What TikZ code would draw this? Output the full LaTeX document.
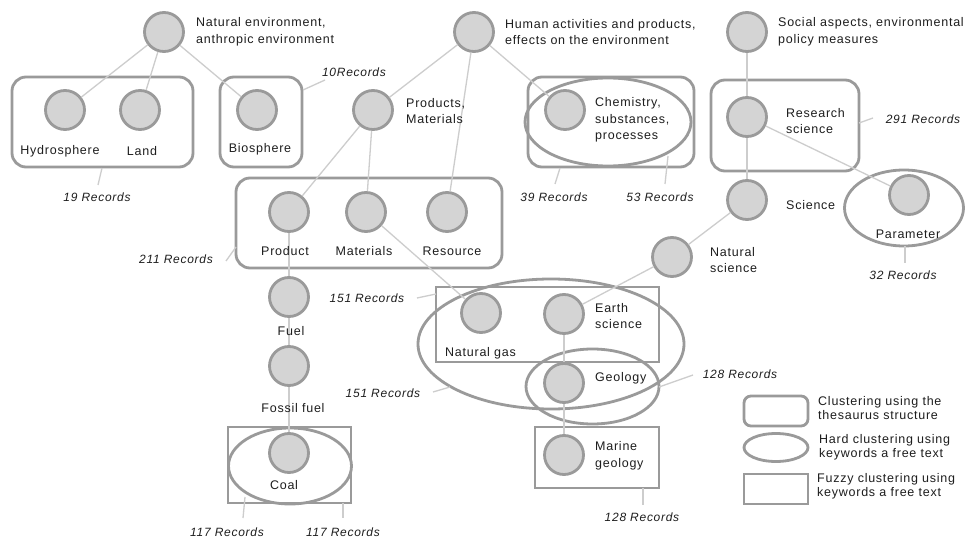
\documentclass[tikz,border=0pt]{standalone}
\usepackage{fontspec}
\setmainfont{Liberation Sans}[LetterSpace=6]
\usetikzlibrary{shapes.geometric}
\definecolor{sk}{HTML}{9A9A9A}
\definecolor{fl}{HTML}{D4D4D4}
\definecolor{ln}{HTML}{CDCDCD}
\definecolor{tx}{HTML}{1E1E1E}
\begin{document}
\begin{tikzpicture}[x=1pt,y=-1pt,
  circ/.style={circle,draw=sk,fill=fl,line width=2.8pt,minimum size=39pt,inner sep=0pt},
  lbl/.style={font=\fontsize{12.5}{16.5}\selectfont,text=tx,inner sep=0pt,align=left},
  leg/.style={font=\fontsize{12.5}{14}\selectfont,text=tx,inner sep=0pt,align=left},
  rec/.style={font=\fontsize{12}{14}\selectfont\itshape,text=tx,inner sep=0pt},
  edge/.style={draw=ln,line width=1.3pt},
  tbox/.style={rectangle,draw=sk,line width=2.8pt,rounded corners=14pt,inner sep=0pt},
  hbox/.style={ellipse,draw=sk,line width=2.8pt,inner sep=0pt},
  fbox/.style={rectangle,draw=sk,line width=2.8pt,inner sep=0pt}]
\path[use as bounding box,fill=white] (0,0) rectangle (966,540);

% cluster shapes
\node[tbox,minimum width=181pt,minimum height=90pt] (b19) at (102.5,122) {};
\node[tbox,minimum width=82pt,minimum height=90pt] (b10) at (261,122) {};
\node[tbox,minimum width=166pt,minimum height=90pt] (b39) at (611,122) {};
\node[hbox,minimum width=166pt,minimum height=88pt] (e53) at (608,122) {};
\node[tbox,minimum width=148pt,minimum height=91pt] (b291) at (785,125.5) {};
\node[hbox,minimum width=119pt,minimum height=76pt] (e32) at (904,208) {};
\node[tbox,minimum width=266pt,minimum height=90pt] (b211) at (369,223) {};
\node[fbox,minimum width=223pt,minimum height=75pt] (f151) at (547.5,324.5) {};
\node[hbox,minimum width=266pt,minimum height=130pt] (e151) at (551,344) {};
\node[hbox,minimum width=133pt,minimum height=75pt] (e128) at (592.5,386.5) {};
\node[fbox,minimum width=124pt,minimum height=61pt] (f128) at (597,457.5) {};
\node[fbox,minimum width=123pt,minimum height=76pt] (f117) at (289.5,465) {};
\node[hbox,minimum width=123pt,minimum height=76pt] (e117) at (290,466) {};

% concept circles
\node[circ] (ne) at (164,32) {};
\node[circ] (hy) at (65,110) {};
\node[circ] (la) at (140,110) {};
\node[circ] (bi) at (257,110) {};
\node[circ] (ha) at (474,32) {};
\node[circ] (pm) at (373,110) {};
\node[circ] (ch) at (565,110) {};
\node[circ] (so) at (747,32) {};
\node[circ] (rs) at (747,117) {};
\node[circ] (sc) at (747,200) {};
\node[circ] (pa) at (909,195) {};
\node[circ] (ns) at (672,257) {};
\node[circ] (pr) at (289,212) {};
\node[circ] (ma) at (366,212) {};
\node[circ] (re) at (447,212) {};
\node[circ] (fu) at (289,297) {};
\node[circ] (ff) at (289,366) {};
\node[circ] (co) at (289,453) {};
\node[circ] (ng) at (481,313) {};
\node[circ] (es) at (564,314) {};
\node[circ] (ge) at (564,383) {};
\node[circ] (mg) at (564,455) {};

% hierarchy connectors
\draw[edge] (ne) -- (hy);
\draw[edge] (ne) -- (la);
\draw[edge] (ne) -- (bi);
\draw[edge] (ha) -- (pm);
\draw[edge] (ha) -- (re);
\draw[edge] (ha) -- (ch);
\draw[edge] (pm) -- (pr);
\draw[edge] (pm) -- (ma);
\draw[edge] (so) -- (rs);
\draw[edge] (rs) -- (sc);
\draw[edge] (rs) -- (pa);
\draw[edge] (sc) -- (ns);
\draw[edge] (ns) -- (es);
\draw[edge] (pr) -- (fu);
\draw[edge] (fu) -- (ff);
\draw[edge] (ff) -- (co);
\draw[edge] (ma) -- (ng);
\draw[edge] (es) -- (ge);
\draw[edge] (ge) -- (mg);

% concept labels
\node[lbl,anchor=west] (tne) at (196,32) {Natural environment,\\anthropic environment};
\node[lbl,anchor=west] (tha) at (505,32) {Human activities and products,\\effects on the environment};
\node[lbl,anchor=west] (tso) at (778,32) {Social aspects, environmental\\policy measures};
\node[lbl] (thy) at (60,151) {Hydrosphere};
\node[lbl] (tla) at (142,151) {Land};
\node[lbl] (tbi) at (260,149) {Biosphere};
\node[lbl,anchor=west] (tpm) at (406,111) {Products,\\Materials};
\node[lbl,anchor=west] (tch) at (595,120) {Chemistry,\\substances,\\processes};
\node[lbl,anchor=west] (trs) at (786,121) {Research\\science};
\node[lbl,anchor=west] (tsc) at (786,205) {Science};
\node[lbl,anchor=west] (tns) at (710,260) {Natural\\science};
\node[lbl] (tpa) at (908,234) {Parameter};
\node[lbl] (tpr) at (285,251) {Product};
\node[lbl] (tma) at (364,251) {Materials};
\node[lbl] (tre) at (452,251) {Resource};
\node[lbl] (tfu) at (291,331) {Fuel};
\node[lbl] (tff) at (293,408) {Fossil fuel};
\node[lbl] (tco) at (284,485) {Coal};
\node[lbl,anchor=west] (tng) at (445,353) {Natural gas};
\node[lbl,anchor=west] (tes) at (595,316) {Earth\\science};
\node[lbl,anchor=west] (tge) at (595,378) {Geology};
\node[lbl,anchor=west] (tmg) at (595,456) {Marine\\geology};

% record counts
\node[rec] (r19) at (97,197) {19 Records};
\node[rec] (r10) at (354,72) {10Records};
\node[rec] (r211) at (176,259) {211 Records};
\node[rec] (r39) at (554,197) {39 Records};
\node[rec] (r53) at (660,197) {53 Records};
\node[rec] (r291) at (923,119) {291 Records};
\node[rec] (r32) at (903,275) {32 Records};
\node[rec] (r151a) at (367,298) {151 Records};
\node[rec] (r151b) at (383,393) {151 Records};
\node[rec] (r128a) at (740,374) {128 Records};
\node[rec] (r128b) at (642,517) {128 Records};
\node[rec] (r117a) at (227,532) {117 Records};
\node[rec] (r117b) at (343,532) {117 Records};

\coordinate (c19a) at (102,168);  \coordinate (c19b) at (98,185);
\coordinate (c10a) at (303,90);   \coordinate (c10b) at (325,80);
\coordinate (c211a) at (236,247); \coordinate (c211b) at (226,261);
\coordinate (c39a) at (560,168);  \coordinate (c39b) at (555,184);
\coordinate (c53a) at (668,156);  \coordinate (c53b) at (665,184);
\coordinate (c291a) at (859,123); \coordinate (c291b) at (873,118);
\coordinate (c32a) at (905,246);  \coordinate (c32b) at (905,263);
\coordinate (c151aa) at (436,294); \coordinate (c151ab) at (417,298);
\coordinate (c151ba) at (450,387); \coordinate (c151bb) at (433,392);
\coordinate (c128aa) at (659,387); \coordinate (c128ab) at (693,375);
\coordinate (c128ba) at (643,488); \coordinate (c128bb) at (643,505);
\coordinate (c117aa) at (245,497); \coordinate (c117ab) at (243,518);
\coordinate (c117ba) at (343,503); \coordinate (c117bb) at (343,518);
\foreach \a/\b in {c19a/c19b,c10a/c10b,c211a/c211b,c39a/c39b,c53a/c53b,c291a/c291b,c32a/c32b,c151aa/c151ab,c151ba/c151bb,c128aa/c128ab,c128ba/c128bb,c117aa/c117ab,c117ba/c117bb}
  \draw[edge] (\a) -- (\b);

% legend
\node[tbox,rounded corners=7pt,minimum width=64pt,minimum height=30pt] (lg1) at (776,411) {};
\node[hbox,minimum width=64pt,minimum height=28pt] (lg2) at (776,447.5) {};
\node[fbox,minimum width=64pt,minimum height=30pt] (lg3) at (776,489) {};
\node[leg,anchor=west] (lt1) at (818,408) {Clustering using the\\thesaurus structure};
\node[leg,anchor=west] (lt2) at (819,447) {Hard clustering using\\keywords a free text};
\node[leg,anchor=west] (lt3) at (817,486) {Fuzzy clustering using\\keywords a free text};
\end{tikzpicture}
\end{document}
